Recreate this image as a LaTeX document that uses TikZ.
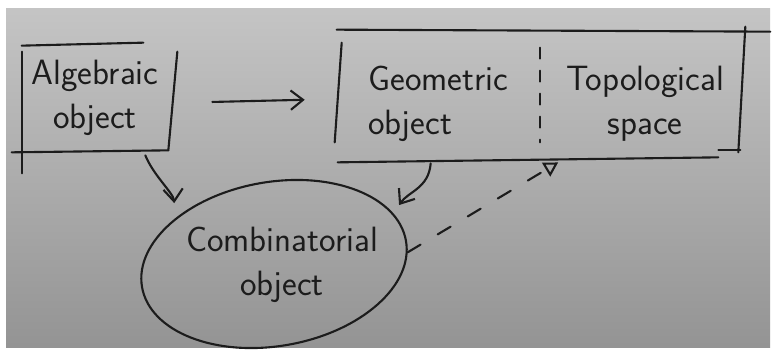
\documentclass[tikz,border=0pt]{standalone}
\usepackage{fontspec}
\usepackage{xcolor}
\usepackage{tikz}
\usetikzlibrary{arrows.meta, positioning, calc, shapes.geometric}
\definecolor{kink}{HTML}{1C1C1C}

\begin{document}
\begin{tikzpicture}[x=0.02cm, y=-0.02cm,
  ink/.style={draw=kink, line width=1.2pt, line cap=round},
  hand/.style={font=\fontsize{20}{25}\selectfont\sffamily, text=kink, inner sep=0pt},
  arr/.style={ink, -{Straight Barb[length=7pt, width=11pt]}},
  dasharr/.style={ink, dash pattern=on 0.3cm off 0.4cm, -{Triangle[open, length=8pt, width=9pt]}}]
\fill[white] (0,0) rectangle (773,358);
\useasboundingbox (0,0) rectangle (773,358);
\shade[top color=black!23, bottom color=black!42] (6,9) rectangle (770,347);
% the nodes
\node[hand, align=center, minimum width=2.92cm, minimum height=2.08cm] (alg) at (95,98) {Algebraic\\object};
\node[minimum width=8.08cm, minimum height=2.56cm] (sys) at (540,94) {};
\node[hand, align=left, anchor=west] (geo) at (368,104) {Geometric\\object};
\node[hand, align=center] (topo) at (645,104) {Topological\\space};
\node[hand, align=center] (comb) at (282,265) {Combinatorial\\object};
\node[ink, ellipse, rotate=10, minimum width=5.36cm, minimum height=3.28cm, inner sep=0pt] (ring) at (274,264) {};
% sketched box of the algebraic object
\draw[ink] (alg.north west) -- ($(alg.north east)+(-25,-3)$);
\draw[ink] ($(alg.north east)+(9,6)$) -- (alg.south east);
\draw[ink] ($(alg.north west)+(0,6)$) -- ($(alg.south west)+(0,23)$);
\draw[ink] ($(alg.south west)+(-10,2)$) -- (alg.south east);
% sketched box round geometric object and topological space
\draw[ink] ($(sys.north west)+(-1,0)$) -- ($(sys.north east)+(28,2)$);
\draw[ink] ($(sys.north east)+(3,-3)$) -- ($(sys.south east)+(-4,-6)$);
\draw[ink] ($(sys.south east)+(-24,-8)$) -- ($(sys.south east)+(-2,-8)$);
\draw[ink] ($(sys.north west)+(4,13)$) -- ($(sys.south west)+(-3,-16)$);
\draw[ink] ($(sys.south west)+(0,4)$) -- ($(sys.south east)+(-24,-1)$);
\draw[ink, dash pattern=on 0.22cm off 0.24cm, shorten <=0.36cm, shorten >=0.32cm] (sys.north) -- (sys.south);
% connectors
\draw[arr, shorten <=0.88cm, shorten >=0.66cm] ([yshift=-0.1cm]alg.east) -- ([yshift=-0.1cm]sys.west);
\draw[arr, shorten >=0.3cm] ($(alg.south east)+(-23,5)$) .. controls +(8,20) and +(-2,-25) .. (ring.145);
\draw[arr, shorten >=0.2cm] ($(sys.south west)+(93,5)$) .. controls +(-2,25) and +(15,-22) .. (ring.13);
\draw[dasharr, shorten >=0.16cm] (ring.-5) -- ([xshift=0.5cm]sys.south);
\end{tikzpicture}
\end{document}
